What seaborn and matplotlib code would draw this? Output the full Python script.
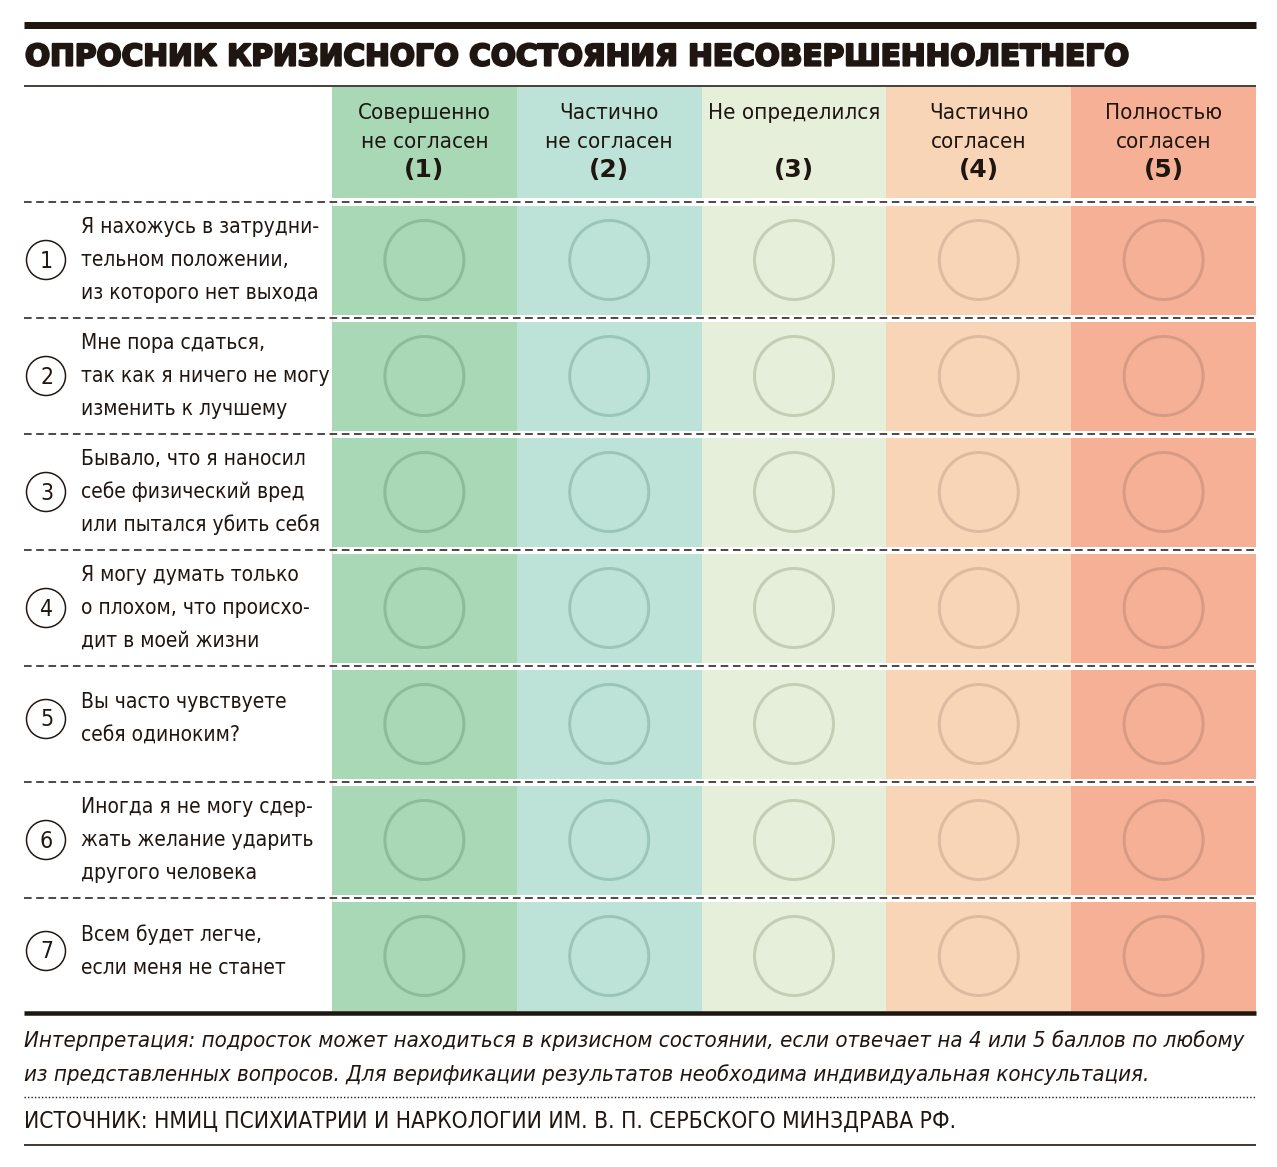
import numpy as np
import pandas as pd
import matplotlib
matplotlib.use("Agg")
import matplotlib.pyplot as plt
from matplotlib import font_manager as fm
from matplotlib.colors import ListedColormap
from matplotlib.patches import Circle
import matplotlib.patheffects as pe
import seaborn as sns

# ---------------- data ----------------
title = "ОПРОСНИК КРИЗИСНОГО СОСТОЯНИЯ НЕСОВЕРШЕННОЛЕТНЕГО"
answer_labels = [["Совершенно", "не согласен"],
                 ["Частично", "не согласен"],
                 ["Не определился", ""],
                 ["Частично", "согласен"],
                 ["Полностью", "согласен"]]
answer_scores = [1, 2, 3, 4, 5]
question_numbers = [1, 2, 3, 4, 5, 6, 7]
questions = [
    ["Я нахожусь в затрудни-", "тельном положении,", "из которого нет выхода"],
    ["Мне пора сдаться,", "так как я ничего не могу", "изменить к лучшему"],
    ["Бывало, что я наносил", "себе физический вред", "или пытался убить себя"],
    ["Я могу думать только", "о плохом, что происхо-", "дит в моей жизни"],
    ["Вы часто чувствуете", "себя одиноким?"],
    ["Иногда я не могу сдер-", "жать желание ударить", "другого человека"],
    ["Всем будет легче,", "если меня не станет"],
]
note_lines = [
    "Интерпретация: подросток может находиться в кризисном состоянии, если отвечает на 4 или 5 баллов по любому",
    "из представленных вопросов. Для верификации результатов необходима индивидуальная консультация.",
]
source = "ИСТОЧНИК: НМИЦ ПСИХИАТРИИ И НАРКОЛОГИИ ИМ. В. П. СЕРБСКОГО МИНЗДРАВА РФ."

# ---------------- style ----------------
cell_colors = ["#a8d8b6", "#bde3d8", "#e6efd9", "#f9d5b8", "#f6b096"]
ring_colors = ["#8dbb9b", "#9cc5b9", "#c3cfb5", "#dcbba0", "#d99a84"]
ink = "#1f1611"

sns.set_theme(style="white")
names = {f.name for f in fm.fontManager.ttflist}
if "Liberation Sans Narrow" in names:
    NARROW = dict(family="Liberation Sans Narrow")
else:
    NARROW = dict(family="DejaVu Sans", fontstretch="condensed")
plt.rcParams["font.family"] = ["DejaVu Sans"]

W, H = 1277, 1167
fig = plt.figure(figsize=(W / 100, H / 100), dpi=100)
fig.patch.set_facecolor("white")

# background pixel axes
bg = fig.add_axes([0, 0, 1, 1], zorder=0)
bg.set_xlim(0, W)
bg.set_ylim(H, 0)
bg.axis("off")

# column geometry (pixels)
x0, x1 = 332, 1256
colw = (x1 - x0) / len(answer_scores)
y_body0, row_h = 202, 116
y_body1 = y_body0 + row_h * len(questions)

# header colored bars
hdr = pd.DataFrame({"score": answer_scores, "color": cell_colors})
bg.bar(x0 + colw * (np.arange(len(hdr)) + 0.5), 111, bottom=87, width=colw,
       color=hdr["color"], linewidth=0, zorder=1)

# body heatmap
hm = fig.add_axes([x0 / W, 1 - y_body1 / H, (x1 - x0) / W, (y_body1 - y_body0) / H], zorder=1)
grid = pd.DataFrame(np.tile(np.arange(len(answer_scores)), (len(questions), 1)),
                    index=question_numbers, columns=answer_scores)
sns.heatmap(grid, ax=hm, cmap=ListedColormap(cell_colors), vmin=-0.5, vmax=len(cell_colors) - 0.5,
            cbar=False, xticklabels=False, yticklabels=False, linewidths=0)
hm.set_xlabel("")
hm.set_ylabel("")
# answer circles
gx, gy = np.meshgrid(np.arange(len(answer_scores)) + 0.5, np.arange(len(questions)) + 0.5)
ec = np.tile(ring_colors, len(questions))
hm.scatter(gx.ravel(), gy.ravel(), s=(79 * 0.72) ** 2, facecolors="none",
           edgecolors=ec, linewidths=3.0 * 0.72, zorder=3)

# overlay axes for lines and text
ov = fig.add_axes([0, 0, 1, 1], zorder=2)
ov.set_xlim(0, W)
ov.set_ylim(H, 0)
ov.axis("off")
ov.patch.set_alpha(0)

renderer = fig.canvas.get_renderer()


def fit_text(x, y, s, width_px, **kw):
    t = ov.text(x, y, s, **kw)
    w = t.get_window_extent(renderer).width
    t.set_fontsize(t.get_fontsize() * width_px / w)
    return t


# top rule and title
ov.plot([24, 1256], [24.5, 24.5], color=ink, lw=7 * 0.72, solid_capstyle="butt")
fit_text(25, 57, title, 1106, fontsize=26, fontweight="heavy", color=ink,
         va="center", ha="left", family="DejaVu Sans",
         path_effects=[pe.withStroke(linewidth=1.6, foreground=ink)])
ov.plot([24, 1256], [86, 86], color=ink, lw=1.6 * 0.72, solid_capstyle="butt")

# header labels
for j, (lines, sc) in enumerate(zip(answer_labels, answer_scores)):
    cx = x0 + colw * (j + 0.5)
    for k, ln in enumerate(lines):
        if ln:
            ov.text(cx, 113 + 29 * k, ln, ha="center", va="center", fontsize=16,
                    color=ink, **NARROW)
    ov.text(cx, 170, f"({sc})", ha="center", va="center", fontsize=18,
            fontweight="bold", color=ink, family="DejaVu Sans")

# row separators: white gaps + dashed lines
for i in range(len(questions)):
    yb = y_body0 + row_h * i
    ov.plot([x0, x1], [yb, yb], color="white", lw=7 * 0.72, solid_capstyle="butt", zorder=1)
    ov.plot([24, 1256], [yb, yb], color=ink, lw=1.1, linestyle=(0, (5, 3)), zorder=2)

# bottom rule
ov.plot([24, 1256], [1013, 1013], color=ink, lw=4.5 * 0.72, solid_capstyle="butt")

# questions
for i, (num, lines) in enumerate(zip(question_numbers, questions)):
    yc = y_body0 + row_h * (i + 0.5)
    if len(lines) == 2:
        yc -= 5
    ov.add_patch(Circle((46, yc), 19.5, facecolor="none", edgecolor=ink, lw=1.5 * 0.72))
    ov.text(46.5, yc + 1, str(num), ha="center", va="center", fontsize=16.5, color=ink, **NARROW)
    n = len(lines)
    for k, ln in enumerate(lines):
        ov.text(81, yc + 33 * (k - (n - 1) / 2), ln, ha="left", va="center",
                fontsize=15, color=ink, **NARROW)

# footnote
t1 = fit_text(24, 1041, note_lines[0], 1226, fontsize=16, style="italic", color=ink,
              ha="left", va="center", **NARROW)
ov.text(24, 1075, note_lines[1], fontsize=t1.get_fontsize(), style="italic", color=ink,
        ha="left", va="center", **NARROW)
ov.plot([24, 1256], [1097, 1097], color=ink, lw=1.0, linestyle=(0, (1, 1.5)))
fit_text(24, 1121, source, 936, fontsize=16, color=ink, ha="left", va="center", **NARROW)
ov.plot([24, 1256], [1145, 1145], color=ink, lw=1.2, solid_capstyle="butt")

fig.savefig("out.png", dpi=100, facecolor="white")
